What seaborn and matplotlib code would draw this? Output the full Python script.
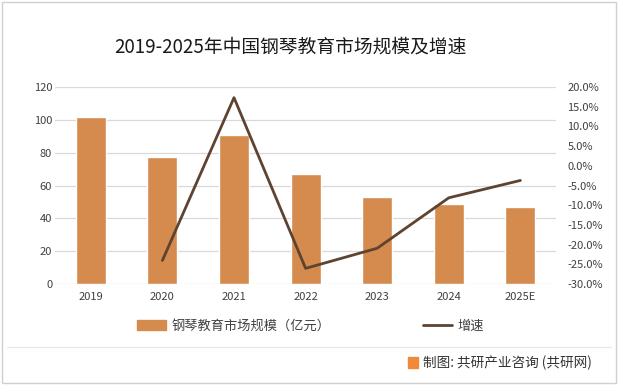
import matplotlib.pyplot as plt
import matplotlib.patches as mpatches
import matplotlib.lines as mlines
from matplotlib.ticker import FuncFormatter
import numpy as np
import pandas as pd
import seaborn as sns

sns.set_style('white')
plt.rcParams['font.family'] = ['Noto Sans CJK SC', 'DejaVu Sans']

# 数据
years = ['2019', '2020', '2021', '2022', '2023', '2024', '2025E']
scale = [101.7, 77.3, 90.7, 67.0, 53.0, 48.7, 46.9]
growth = [np.nan, -24.0, 17.3, -26.0, -20.9, -8.1, -3.7]

bar_color = '#D48B4D'
line_color = '#5E4331'
grid_color = '#D9D9D9'
text_color = '#404040'

df = pd.DataFrame({'year': years, 'scale': scale, 'growth': growth})
df['pos'] = np.arange(len(years))

fig = plt.figure(figsize=(6.18, 3.85), dpi=100)
ax = fig.add_axes([0.089, 0.262, 0.811, 0.512])

sns.barplot(data=df, x='year', y='scale', color=bar_color, width=0.42,
            saturation=1, ax=ax, zorder=2)
ax.set_ylim(0, 120)
ax.set_yticks(range(0, 121, 20))
ax.set_xlim(-0.5, len(years) - 0.5)
ax.grid(axis='y', color=grid_color, linewidth=0.9, zorder=0)
ax.set_axisbelow(True)
ax.set_xlabel('')
ax.set_ylabel('')
for s in ax.spines.values():
    s.set_visible(False)
ax.tick_params(axis='both', length=0, labelsize=8, colors=text_color)
ax.tick_params(axis='y', pad=2)
ax.tick_params(axis='x', pad=6)

ax2 = ax.twinx()
sns.lineplot(data=df, x='pos', y='growth', color=line_color, linewidth=2.0,
             ax=ax2, zorder=3)
ax2.set_ylim(-30, 20)
ax2.set_yticks(range(-30, 21, 5))
ax2.yaxis.set_major_formatter(FuncFormatter(lambda v, p: f'{v:.1f}%'))
ax2.set_xlim(-0.5, len(years) - 0.5)
ax2.set_ylabel('')
for s in ax2.spines.values():
    s.set_visible(False)
ax2.tick_params(axis='y', length=0, labelsize=8, colors=text_color, pad=8)

fig.text(0.47, 0.877, '2019-2025年中国钢琴教育市场规模及增速', ha='center',
         va='center', fontsize=13.5, color='#1a1a1a')

h1 = mpatches.Patch(color=bar_color)
h2 = mlines.Line2D([], [], color=line_color, linewidth=2.0)
fig.legend([h1, h2], ['钢琴教育市场规模（亿元）', '增速'], loc='center',
           bbox_to_anchor=(0.502, 0.153), ncol=2, frameon=False, fontsize=9.5,
           handlelength=2.2, handleheight=0.7, handletextpad=0.4,
           columnspacing=7.0, labelcolor=text_color)

fig.add_artist(mlines.Line2D([0.012, 0.988], [0.099, 0.099], color='#E6E6E6',
                             linewidth=0.8))
fig.add_artist(mpatches.Rectangle((0.66, 0.044), 0.017, 0.028,
                                  color='#F08A3A', transform=fig.transFigure))
fig.text(0.685, 0.058, '制图: 共研产业咨询 (共研网)', ha='left', va='center',
         fontsize=9.8, color='#333333')

fig.add_artist(mpatches.Rectangle((0.003, 0.004), 0.994, 0.992, fill=False,
                                  edgecolor='#D0D0D0', linewidth=1,
                                  transform=fig.transFigure))

fig.savefig('out.png', dpi=100)
